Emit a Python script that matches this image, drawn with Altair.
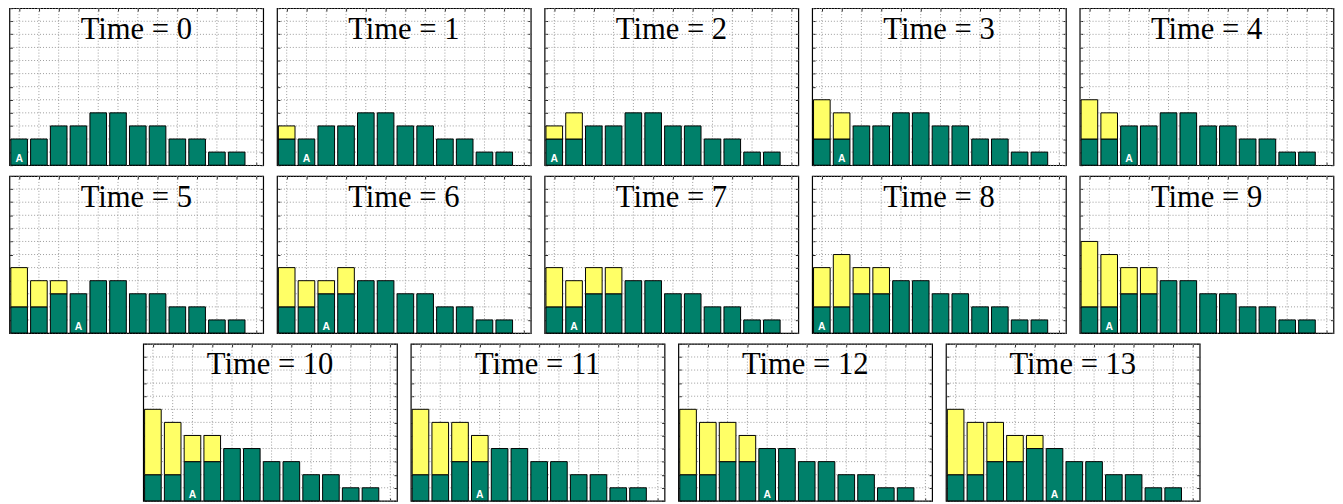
import altair as alt
import pandas as pd

# ---- data ----
positions = list(range(12))
green_heights = [2, 2, 3, 3, 4, 4, 3, 3, 2, 2, 1, 1]
times = list(range(14))
# yellow amount stacked on top of each green bar, per time step
yellow_heights = [
    [0, 0, 0, 0, 0, 0, 0, 0, 0, 0, 0, 0],  # t0
    [1, 0, 0, 0, 0, 0, 0, 0, 0, 0, 0, 0],  # t1
    [1, 2, 0, 0, 0, 0, 0, 0, 0, 0, 0, 0],  # t2
    [3, 2, 0, 0, 0, 0, 0, 0, 0, 0, 0, 0],  # t3
    [3, 2, 0, 0, 0, 0, 0, 0, 0, 0, 0, 0],  # t4
    [3, 2, 1, 0, 0, 0, 0, 0, 0, 0, 0, 0],  # t5
    [3, 2, 1, 2, 0, 0, 0, 0, 0, 0, 0, 0],  # t6
    [3, 2, 2, 2, 0, 0, 0, 0, 0, 0, 0, 0],  # t7
    [3, 4, 2, 2, 0, 0, 0, 0, 0, 0, 0, 0],  # t8
    [5, 4, 2, 2, 0, 0, 0, 0, 0, 0, 0, 0],  # t9
    [5, 4, 2, 2, 0, 0, 0, 0, 0, 0, 0, 0],  # t10
    [5, 4, 3, 2, 0, 0, 0, 0, 0, 0, 0, 0],  # t11
    [5, 4, 3, 2, 0, 0, 0, 0, 0, 0, 0, 0],  # t12
    [5, 4, 3, 2, 1, 0, 0, 0, 0, 0, 0, 0],  # t13
]
agent_positions = [0, 1, 0, 1, 2, 3, 2, 1, 0, 1, 2, 3, 4, 5]
agent_label = "A"
x_ticks = list(range(13))
y_ticks = list(range(13))

GREEN = "#00806A"
YELLOW = "#FFFF66"
W, H = 257, 159

x_scale = alt.Scale(domain=[-0.49, 12.34], nice=False, zero=False)
y_scale = alt.Scale(domain=[0, 12], nice=False, zero=False)

tick_common = dict(
    labels=False, title=None, domain=False, grid=False,
    ticks=True, tickSize=3, tickColor="#222", tickWidth=1,
    offset=-3, minExtent=0, maxExtent=0,
)
grid_style = dict(color="#9a9a9a", strokeDash=[1, 2], strokeWidth=1)

vgrid_df = pd.DataFrame({"gx": x_ticks})
hgrid_df = pd.DataFrame({"gy": y_ticks})


def panel(t):
    rows = []
    for i in positions:
        rows.append(dict(pos=i, lo=0, hi=green_heights[i], kind="green"))
        if yellow_heights[t][i] > 0:
            rows.append(dict(pos=i, lo=green_heights[i],
                             hi=green_heights[i] + yellow_heights[t][i], kind="yellow"))
    df = pd.DataFrame(rows)

    vgrid = alt.Chart(vgrid_df).mark_rule(**grid_style).encode(
        x=alt.X("gx:Q", scale=x_scale, axis=None))
    hgrid = alt.Chart(hgrid_df).mark_rule(**grid_style).encode(
        y=alt.Y("gy:Q", scale=y_scale, axis=None))

    bars = alt.Chart(df).transform_calculate(
        x0="datum.pos - 0.42", x1="datum.pos + 0.42"
    ).mark_bar(stroke="black", strokeWidth=1).encode(
        x=alt.X("x0:Q", scale=x_scale,
                axis=alt.Axis(orient="bottom", values=x_ticks, **tick_common)),
        x2="x1:Q",
        y=alt.Y("lo:Q", scale=y_scale,
                axis=alt.Axis(orient="left", values=y_ticks, **tick_common)),
        y2="hi:Q",
        color=alt.Color("kind:N", scale=alt.Scale(domain=["green", "yellow"],
                                                  range=[GREEN, YELLOW]), legend=None),
    )

    a_df = pd.DataFrame({"pos": [agent_positions[t]], "base": [0], "label": [agent_label]})
    a_text = alt.Chart(a_df).mark_text(
        font="Liberation Sans", fontWeight="bold", fontSize=10.5, color="white",
        baseline="bottom", align="center", dy=-1,
    ).encode(
        x=alt.X("pos:Q", scale=x_scale,
                axis=alt.Axis(orient="top", values=x_ticks, **tick_common)),
        y=alt.Y("base:Q", scale=y_scale,
                axis=alt.Axis(orient="right", values=y_ticks, **tick_common)),
        text="label:N",
    )

    title_df = pd.DataFrame({"label": [f"Time = {t}"]})
    title = alt.Chart(title_df).mark_text(
        font="Liberation Serif", fontSize=31, color="black",
        baseline="alphabetic", align="center",
    ).encode(x=alt.value(W / 2), y=alt.value(31), text="label:N")

    return alt.layer(vgrid, hgrid, bars, a_text, title).resolve_axis(
        x="independent", y="independent"
    ).properties(width=W, height=H)


row1 = alt.hconcat(*[panel(t) for t in times[0:5]], spacing=10)
row2 = alt.hconcat(*[panel(t) for t in times[5:10]], spacing=10)
row3 = alt.hconcat(*[panel(t) for t in times[10:14]], spacing=10)

chart = alt.vconcat(row1, row2, row3, spacing=7, center=True).configure_view(
    stroke="black", strokeWidth=1.2
).properties(padding={"left": 0, "top": -5, "right": 0, "bottom": 0}, background="white")

chart.save("out.html", embed_options={"renderer": "svg", "actions": False})
